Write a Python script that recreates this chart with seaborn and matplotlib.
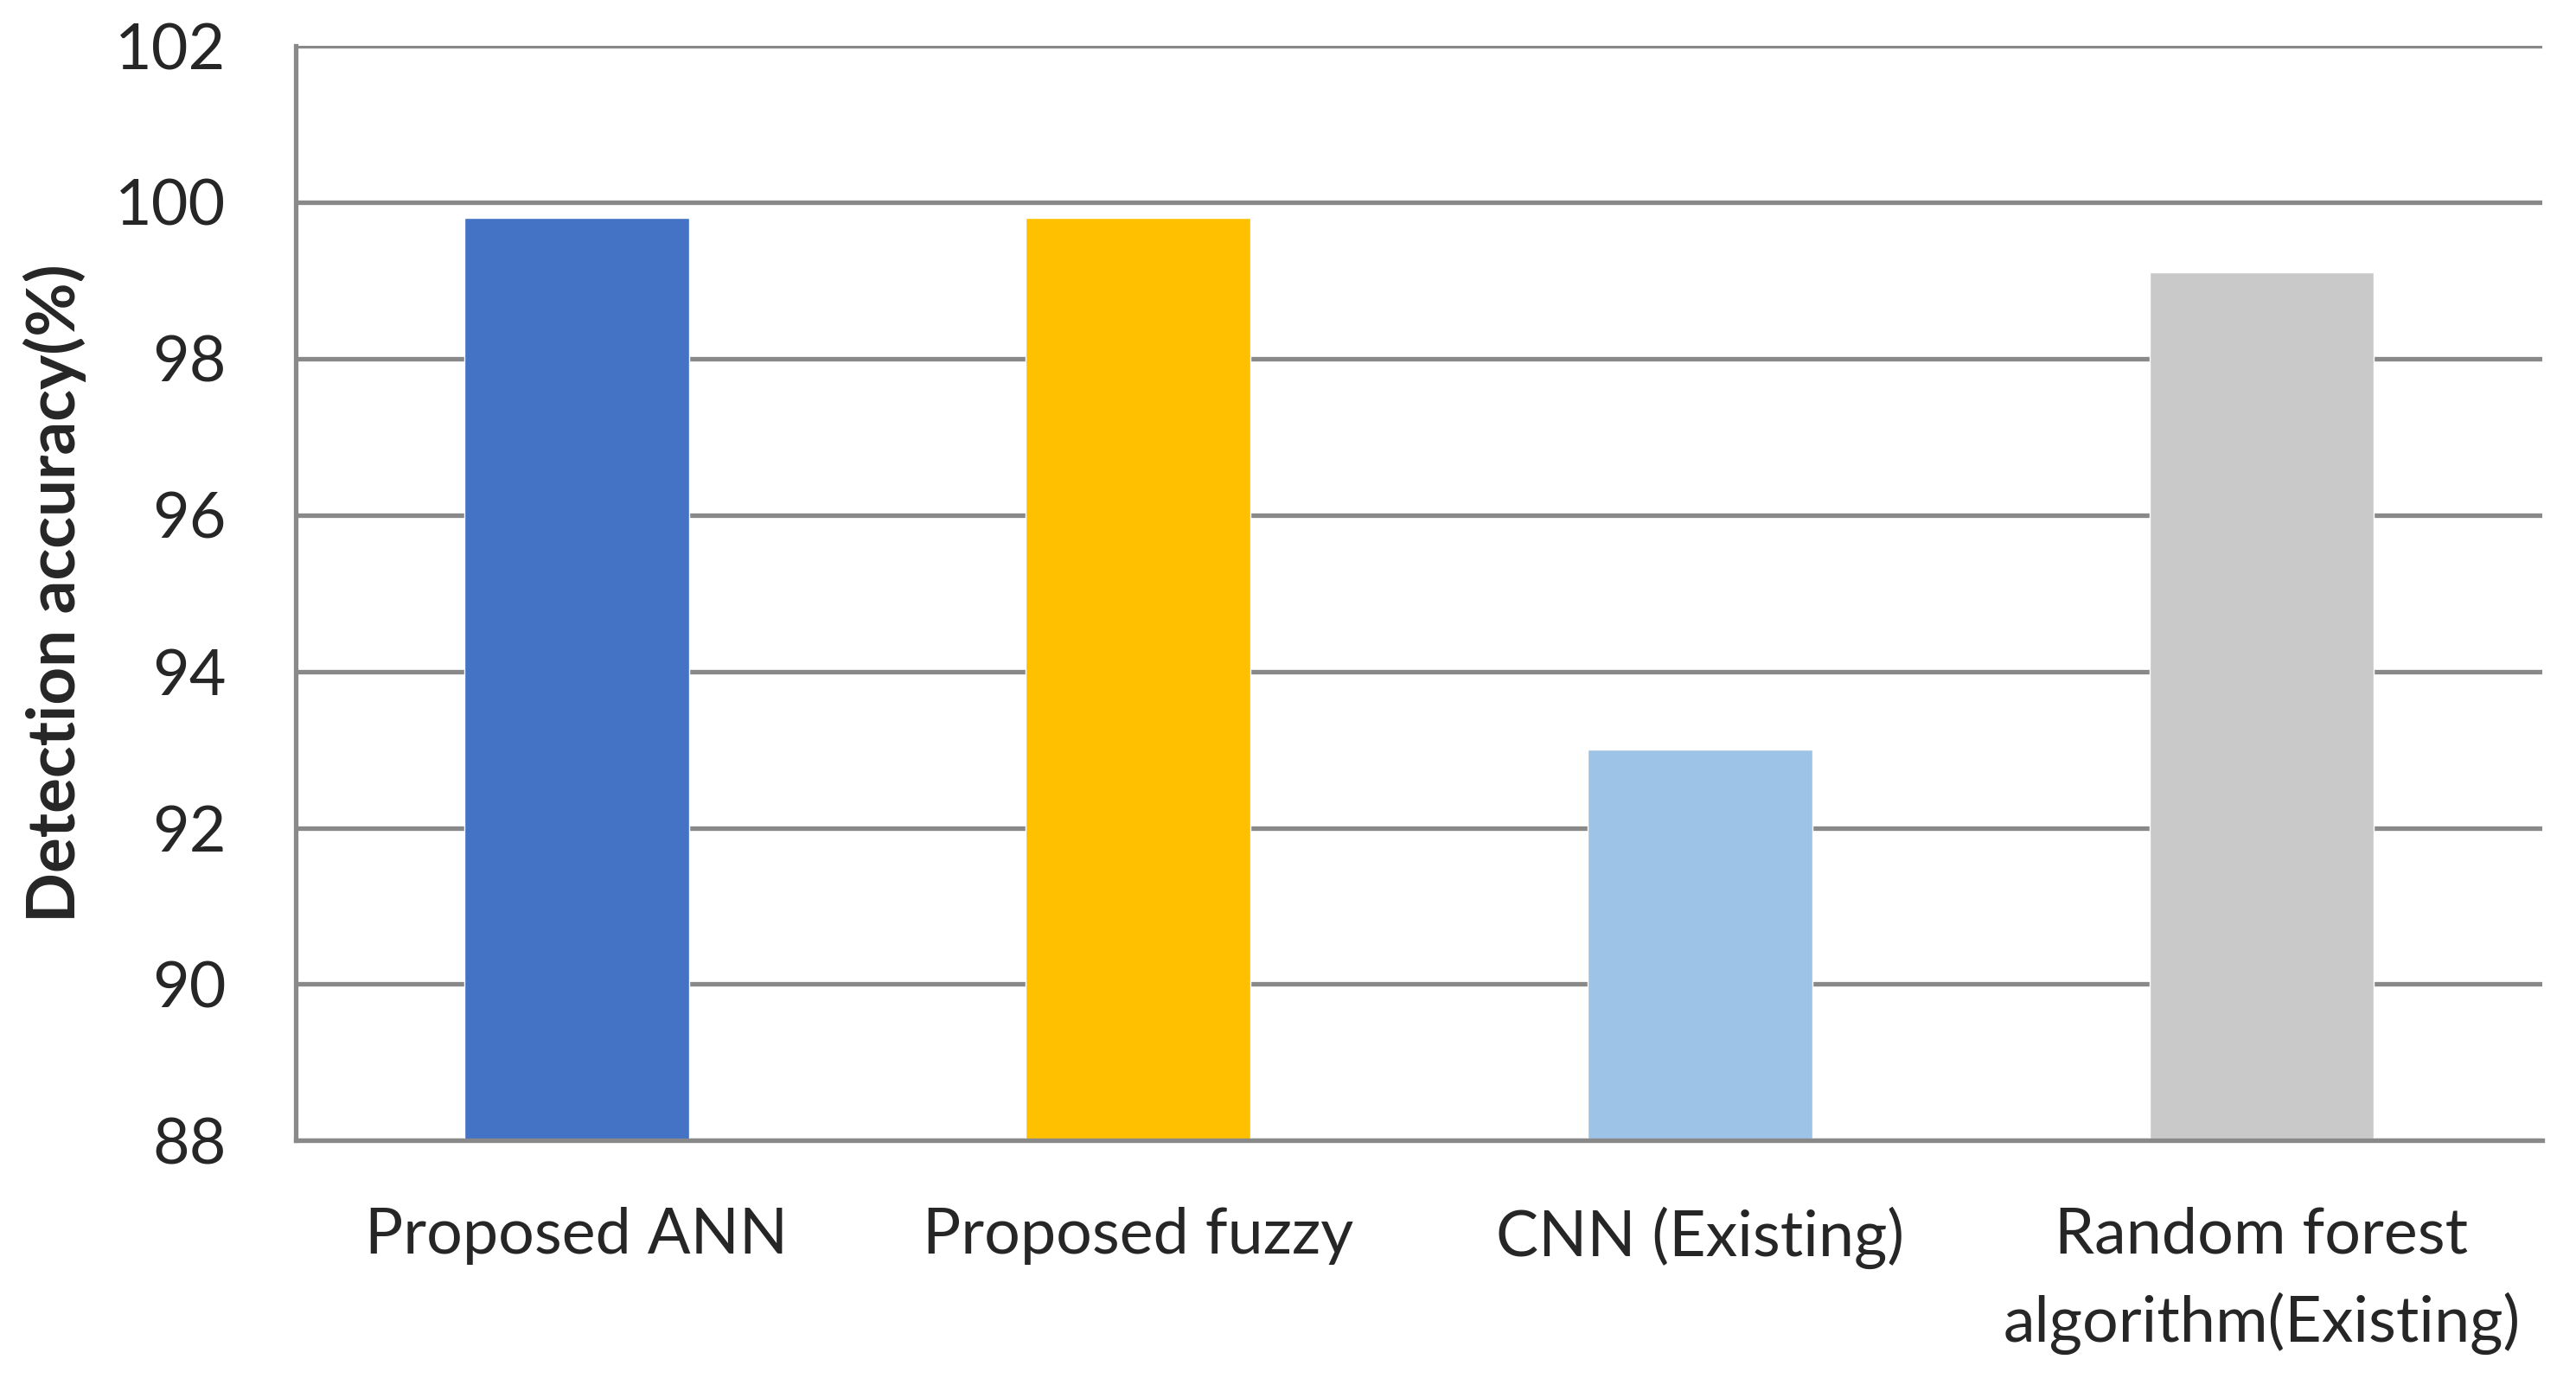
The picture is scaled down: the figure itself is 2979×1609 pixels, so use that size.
import pandas as pd
import matplotlib.pyplot as plt
import seaborn as sns

# Detection accuracy per method
methods = ["Proposed ANN", "Proposed fuzzy", "CNN (Existing)",
           "Random forest\nalgorithm(Existing)"]
accuracy = [99.8, 99.8, 93.0, 99.1]
bar_colors = ["#4472C4", "#FFC000", "#9DC3E6", "#C9C9C9"]
y_ticks = [88, 90, 92, 94, 96, 98, 100, 102]

df = pd.DataFrame({"Method": methods, "Accuracy": accuracy})

sns.set_style("white")
plt.rcParams['font.family'] = ['Lato', 'DejaVu Sans']

fig = plt.figure(figsize=(29.79, 16.09), dpi=100)
ax = fig.add_axes([0.1148, 0.180, 0.8722, 0.787])

sns.barplot(data=df, x="Method", y="Accuracy", hue="Method",
            palette=bar_colors, saturation=1, width=0.4, legend=False,
            ax=ax, zorder=3)

grid_c = "#898989"
ax.set_ylim(88, 102)
ax.set_yticks(y_ticks)
ax.yaxis.grid(True, color=grid_c, linewidth=3.8, zorder=0)
ax.set_axisbelow(True)

for side in ["top", "right"]:
    ax.spines[side].set_visible(False)
for side in ["left", "bottom"]:
    ax.spines[side].set_color(grid_c)
    ax.spines[side].set_linewidth(3.8)
ax.spines["bottom"].set_zorder(4)

ax.tick_params(axis="y", length=0, pad=58, labelsize=53)
ax.tick_params(axis="x", length=0, pad=55, labelsize=53)
for lbl in ax.get_xticklabels():
    lbl.set_linespacing(1.55)
ax.set_xlabel("")
ax.set_ylabel("Detection accuracy(%)", fontsize=55, fontweight="bold", labelpad=24)

fig.savefig("out.png", dpi=100)
